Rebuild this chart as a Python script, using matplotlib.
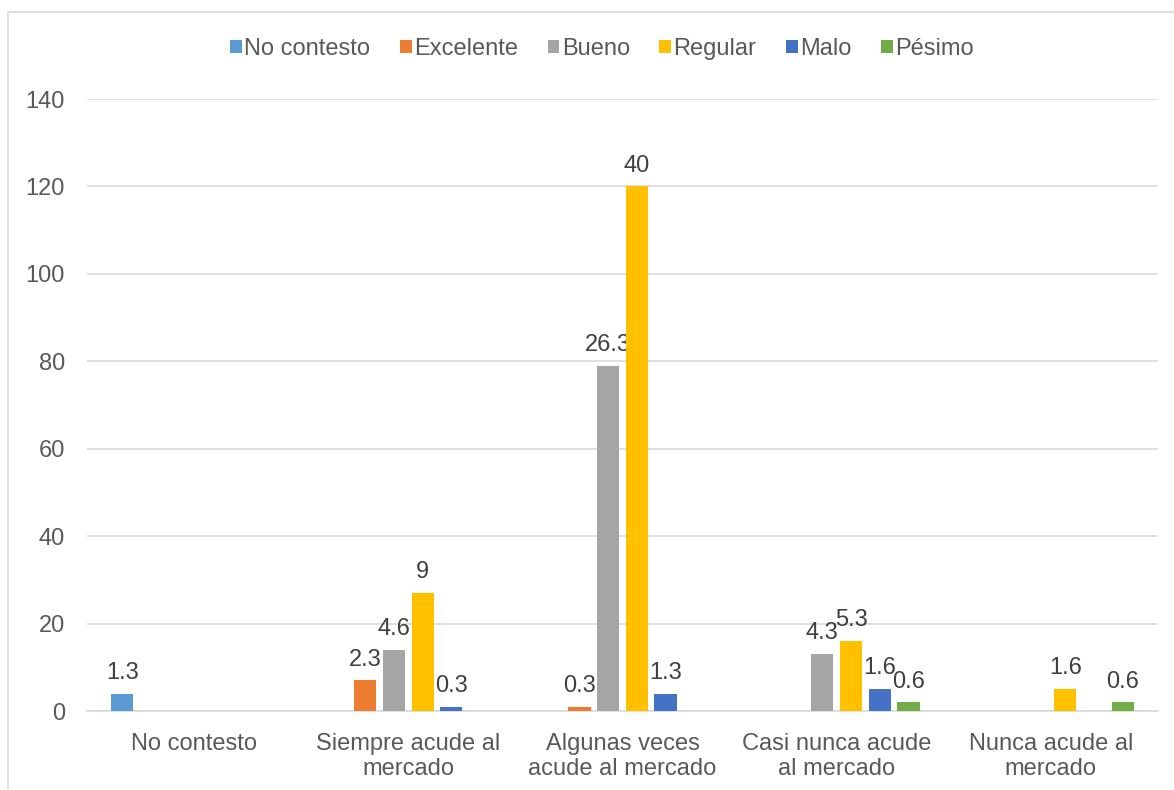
import numpy as np
import matplotlib.pyplot as plt
from matplotlib.patches import Rectangle

plt.rcParams['font.family'] = ['Liberation Sans', 'DejaVu Sans']

grupos = ['No contesto', 'Siempre acude al\nmercado', 'Algunas veces\nacude al mercado',
          'Casi nunca acude\nal mercado', 'Nunca acude al\nmercado']
series = ['No contesto', 'Excelente', 'Bueno', 'Regular', 'Malo', 'Pésimo']
colores = ['#5B9BD5', '#ED7D31', '#A5A5A5', '#FFC000', '#4472C4', '#70AD47']

# frecuencias (altura de barra) y porcentaje mostrado encima; None = sin dato
no_contesto = [4, None, None, None, None]
excelente = [None, 7, 1, None, None]
bueno = [None, 14, 79, 13, None]
regular = [None, 27, 120, 16, 5]
malo = [None, 1, 4, 5, None]
pesimo = [None, None, None, 2, 2]

pct_no_contesto = [1.3, None, None, None, None]
pct_excelente = [None, 2.3, 0.3, None, None]
pct_bueno = [None, 4.6, 26.3, 4.3, None]
pct_regular = [None, 9, 40, 5.3, 1.6]
pct_malo = [None, 0.3, 1.3, 1.6, None]
pct_pesimo = [None, None, None, 0.6, 0.6]

valores = [no_contesto, excelente, bueno, regular, malo, pesimo]
porcentajes = [pct_no_contesto, pct_excelente, pct_bueno, pct_regular, pct_malo, pct_pesimo]

fig = plt.figure(figsize=(11.74, 7.90), dpi=100)
ax = fig.add_axes([87 / 1174, 1 - 711 / 790, (1158 - 87) / 1174, (711 - 99) / 790])

# marco gris del área del gráfico
fig.patches.append(Rectangle((8 / 1174, -0.02), 1.2, 1 - 12 / 790 + 0.02, transform=fig.transFigure,
                             fill=False, edgecolor='#D9D9D9', linewidth=1.2))

x = np.arange(len(grupos))
paso = 0.134
ancho = 0.104
texto = '#404040'

for i, (nombre, vals, pcts, col) in enumerate(zip(series, valores, porcentajes, colores)):
    h = np.array([np.nan if v is None else v for v in vals], dtype=float)
    pos = x + (i - 2.5) * paso
    ax.bar(pos, h, width=ancho, color=col, label=nombre, zorder=3)
    for xp, v, p in zip(pos, vals, pcts):
        if v is None:
            continue
        etiqueta = f'{p:g}'
        ax.annotate(etiqueta, (xp, v), xytext=(0, 7), textcoords='offset points',
                    ha='center', va='bottom', fontsize=17, color=texto)

ax.set_xlim(-0.5, len(grupos) - 0.5)
ax.set_ylim(0, 140)
ax.set_yticks(range(0, 141, 20))
ax.set_xticks(x)
ax.set_xticklabels(grupos, fontsize=17, color='#595959', linespacing=1.15)
ax.tick_params(axis='y', labelsize=17, labelcolor='#595959', length=0, pad=16)
ax.tick_params(axis='x', length=0, pad=16)
ax.grid(axis='y', color='#D9D9D9', linewidth=1.2, zorder=0)
for lado in ['top', 'right', 'left']:
    ax.spines[lado].set_visible(False)
ax.spines['bottom'].set_color('#D9D9D9')
ax.spines['bottom'].set_linewidth(1.2)

fig.legend(loc='center', bbox_to_anchor=(602 / 1174, 1 - 49 / 790), ncol=6, frameon=False,
           fontsize=17, handlelength=0.5, handleheight=0.5, handletextpad=0.1,
           columnspacing=1.25, labelcolor='#595959')

fig.savefig('out.png', dpi=100)
